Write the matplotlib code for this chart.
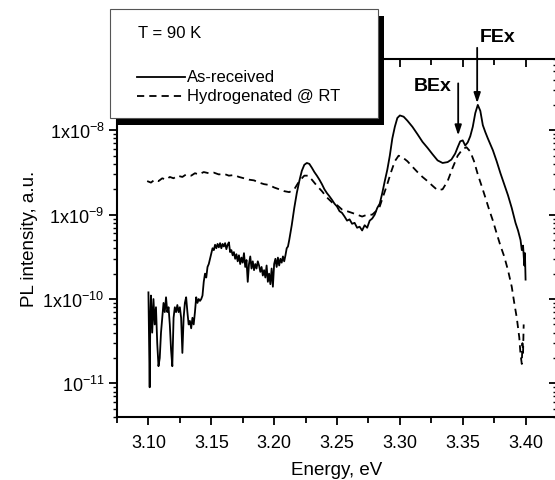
import matplotlib
matplotlib.use("Agg")
import matplotlib.pyplot as plt
from matplotlib.patches import Rectangle
from matplotlib.lines import Line2D
from matplotlib.ticker import FixedLocator, MultipleLocator, LogLocator, NullFormatter

plt.rcParams['font.family'] = ['Liberation Sans', 'DejaVu Sans']
plt.rcParams['mathtext.default'] = 'regular'

# ---------------------------------------------------------------
# data (energy in eV, PL intensity in a.u.)
# ---------------------------------------------------------------
asrec_E = [3.100, 3.1005, 3.101, 3.1015, 3.102, 3.103, 3.104, 3.105, 3.106, 3.107,
           3.108, 3.109, 3.110, 3.111, 3.112, 3.113, 3.114, 3.115, 3.116, 3.117,
           3.118, 3.119, 3.120, 3.121, 3.122, 3.123, 3.124, 3.125, 3.126, 3.127,
           3.128, 3.129, 3.130, 3.131, 3.132, 3.133, 3.134, 3.135, 3.136, 3.137,
           3.138, 3.139, 3.140, 3.141, 3.142, 3.143, 3.144, 3.145, 3.146, 3.147,
           3.148, 3.149, 3.150, 3.151, 3.152, 3.153, 3.154, 3.155, 3.156, 3.157,
           3.158, 3.159, 3.160, 3.161, 3.162, 3.163, 3.164, 3.165, 3.166, 3.167,
           3.168, 3.169, 3.170, 3.171, 3.172, 3.173, 3.174, 3.175, 3.176, 3.177,
           3.178, 3.179, 3.180, 3.181, 3.182, 3.183, 3.184, 3.185, 3.186, 3.187,
           3.188, 3.189, 3.190, 3.191, 3.192, 3.193, 3.194, 3.195, 3.196, 3.197,
           3.198, 3.199, 3.200, 3.201, 3.202, 3.203, 3.204, 3.205, 3.206, 3.207,
           3.208, 3.209, 3.210, 3.211, 3.212, 3.214, 3.216, 3.218, 3.220, 3.222,
           3.224, 3.226, 3.228, 3.230, 3.232, 3.234, 3.236, 3.238, 3.240, 3.242,
           3.244, 3.246, 3.248, 3.250, 3.252, 3.254, 3.256, 3.258, 3.260, 3.262,
           3.264, 3.266, 3.268, 3.270, 3.272, 3.274, 3.276, 3.278, 3.280, 3.282,
           3.284, 3.286, 3.288, 3.290, 3.292, 3.294, 3.296, 3.298, 3.300, 3.303,
           3.306, 3.310, 3.314, 3.318, 3.322, 3.326, 3.330, 3.334, 3.338, 3.341,
           3.344, 3.346, 3.348, 3.350, 3.352, 3.354, 3.356, 3.358, 3.360, 3.362,
           3.364, 3.366, 3.368, 3.370, 3.372, 3.374, 3.377, 3.380, 3.383, 3.386,
           3.389, 3.392, 3.394, 3.396, 3.397, 3.398, 3.399, 3.3995, 3.400]
asrec_I = [1.2e-10, 3e-11, 9e-12, 6e-11, 1.1e-10, 4e-11, 1.0e-10, 5e-11, 8e-11, 3e-11,
           1.6e-11, 2e-11, 4e-11, 6e-11, 9e-11, 7e-11, 1.05e-10, 7e-11, 8e-11, 5e-11,
           2.5e-11, 1.6e-11, 6e-11, 8e-11, 7e-11, 8.5e-11, 7e-11, 8e-11, 6e-11, 2.3e-11,
           6e-11, 9e-11, 1.05e-10, 7e-11, 5e-11, 5.5e-11, 4.5e-11, 6e-11, 5e-11, 7e-11,
           1.05e-10, 9e-11, 1.0e-10, 9.5e-11, 1.0e-10, 1.1e-10, 1.6e-10, 2.0e-10, 1.8e-10, 2.4e-10,
           2.6e-10, 3.0e-10, 3.5e-10, 4.0e-10, 3.8e-10, 4.4e-10, 4.0e-10, 4.5e-10, 4.1e-10, 4.6e-10,
           4.0e-10, 4.5e-10, 4.2e-10, 4.6e-10, 3.9e-10, 4.4e-10, 4.7e-10, 3.6e-10, 3.8e-10, 3.3e-10,
           3.6e-10, 3.0e-10, 3.4e-10, 2.8e-10, 3.3e-10, 2.6e-10, 3.1e-10, 2.7e-10, 3.5e-10, 2.4e-10,
           2.9e-10, 1.6e-10, 2.6e-10, 3.2e-10, 2.3e-10, 2.8e-10, 2.2e-10, 2.6e-10, 2.3e-10, 2.8e-10,
           2.5e-10, 2.1e-10, 2.4e-10, 1.9e-10, 2.2e-10, 1.8e-10, 2.5e-10, 1.6e-10, 2.0e-10, 1.5e-10,
           2.3e-10, 1.4e-10, 2.6e-10, 3.0e-10, 2.4e-10, 3.1e-10, 2.5e-10, 3.0e-10, 2.7e-10, 3.2e-10,
           2.8e-10, 3.3e-10, 4.0e-10, 4.2e-10, 5.0e-10, 7.5e-10, 1.2e-9, 1.8e-9, 2.5e-9, 3.3e-9,
           3.9e-9, 4.1e-9, 4.0e-9, 3.6e-9, 3.2e-9, 2.9e-9, 2.6e-9, 2.3e-9, 2.0e-9, 1.8e-9,
           1.65e-9, 1.5e-9, 1.35e-9, 1.25e-9, 1.1e-9, 1.05e-9, 9.5e-10, 8.5e-10, 8.8e-10, 7.8e-10,
           8.0e-10, 7.0e-10, 7.2e-10, 6.5e-10, 7.5e-10, 7.0e-10, 8.5e-10, 9.0e-10, 1.0e-9, 1.2e-9,
           1.35e-9, 1.8e-9, 2.5e-9, 3.4e-9, 5.0e-9, 8.0e-9, 1.1e-8, 1.4e-8, 1.5e-8, 1.45e-8,
           1.3e-8, 1.1e-8, 9e-9, 7.3e-9, 6.2e-9, 5.2e-9, 4.4e-9, 4.1e-9, 4.2e-9, 4.5e-9,
           5.3e-9, 6.3e-9, 7.4e-9, 7.6e-9, 6.6e-9, 7.2e-9, 8.5e-9, 1.1e-8, 1.6e-8, 2.0e-8,
           1.7e-8, 1.15e-8, 9.5e-9, 8e-9, 6.8e-9, 5.8e-9, 4.3e-9, 3.1e-9, 2.3e-9, 1.7e-9,
           1.2e-9, 8e-10, 6.5e-10, 5e-10, 3.8e-10, 4.3e-10, 2.5e-10, 3.5e-10, 1.7e-10]

hydro_E = [3.099, 3.102, 3.105, 3.108, 3.111, 3.114, 3.117, 3.120, 3.123, 3.127,
           3.130, 3.134, 3.137, 3.140, 3.144, 3.148, 3.152, 3.156, 3.160, 3.164,
           3.168, 3.172, 3.176, 3.180, 3.184, 3.188, 3.192, 3.196, 3.200, 3.204,
           3.208, 3.212, 3.216, 3.220, 3.224, 3.227, 3.230, 3.234, 3.238, 3.242,
           3.246, 3.250, 3.254, 3.258, 3.262, 3.266, 3.270, 3.274, 3.278, 3.281,
           3.284, 3.287, 3.290, 3.293, 3.296, 3.299, 3.302, 3.306, 3.310, 3.314,
           3.318, 3.322, 3.326, 3.330, 3.334, 3.338, 3.342, 3.346, 3.350, 3.353,
           3.356, 3.359, 3.362, 3.365, 3.368, 3.371, 3.374, 3.377, 3.380, 3.383,
           3.386, 3.389, 3.391, 3.393, 3.395, 3.396, 3.397, 3.3975, 3.398, 3.3985]
hydro_I = [2.5e-9, 2.4e-9, 2.6e-9, 2.5e-9, 2.7e-9, 2.6e-9, 2.8e-9, 2.7e-9, 2.9e-9, 2.8e-9,
           3.0e-9, 2.9e-9, 3.1e-9, 3.0e-9, 3.2e-9, 3.1e-9, 3.15e-9, 3.0e-9, 3.05e-9, 2.9e-9,
           2.95e-9, 2.8e-9, 2.7e-9, 2.6e-9, 2.55e-9, 2.4e-9, 2.3e-9, 2.25e-9, 2.1e-9, 2.0e-9,
           1.9e-9, 1.85e-9, 2.0e-9, 2.5e-9, 2.9e-9, 2.9e-9, 2.6e-9, 2.2e-9, 1.9e-9, 1.6e-9,
           1.4e-9, 1.3e-9, 1.15e-9, 1.1e-9, 1.05e-9, 1.0e-9, 9.5e-10, 1.0e-9, 1.0e-9, 1.1e-9,
           1.25e-9, 1.7e-9, 2.3e-9, 3.2e-9, 4.3e-9, 5.0e-9, 4.8e-9, 4.3e-9, 3.7e-9, 3.2e-9,
           2.8e-9, 2.5e-9, 2.2e-9, 1.95e-9, 2.0e-9, 2.5e-9, 3.6e-9, 5.0e-9, 6.0e-9, 6.3e-9,
           5.6e-9, 4.3e-9, 3.0e-9, 2.2e-9, 1.6e-9, 1.15e-9, 8.5e-10, 6e-10, 4.3e-10, 3.2e-10,
           2.2e-10, 1.4e-10, 9e-11, 6e-11, 3.5e-11, 2.2e-11, 1.7e-11, 3e-11, 2.3e-11, 5e-11]

ytick_vals = [1e-11, 1e-10, 1e-9, 1e-8]
ytick_labels = ['10$^{-11}$', '1x10$^{-10}$', '1x10$^{-9}$', '1x10$^{-8}$']
xtick_vals = [3.10, 3.15, 3.20, 3.25, 3.30, 3.35, 3.40]
xtick_labels = ['3.10', '3.15', '3.20', '3.25', '3.30', '3.35', '3.40']

# peak markers: (label, arrow x, arrow top, arrow tip, text x, text y)
peaks = [('FEx', 3.3615, 9.5e-8, 2.1e-8, 3.3775, 1.3e-7),
         ('BEx', 3.3464, 3.6e-8, 8.7e-9, 3.3265, 3.4e-8)]

W, H = 555, 481
fig = plt.figure(figsize=(W / 100, H / 100), dpi=100)

def fx(px):
    return px / W

def fy(py):
    return 1 - py / H

ax = fig.add_axes([fx(117), fy(418), fx(557 - 117), (418 - 60) / H])

ax.plot(asrec_E, asrec_I, color='black', lw=1.3)
ax.plot(hydro_E, hydro_I, color='black', lw=1.3, dashes=(4, 2.8))

ax.set_yscale('log')
ax.set_xlim(3.075, 3.425)
ax.set_ylim(4e-12, 7e-8)

ax.xaxis.set_major_locator(FixedLocator(xtick_vals))
ax.set_xticklabels(xtick_labels)
ax.xaxis.set_minor_locator(MultipleLocator(0.025))
ax.yaxis.set_major_locator(FixedLocator(ytick_vals))
ax.set_yticklabels(ytick_labels)
ax.yaxis.set_minor_locator(LogLocator(base=10, subs=range(2, 10), numticks=20))
ax.yaxis.set_minor_formatter(NullFormatter())

for s in ax.spines.values():
    s.set_linewidth(1.5)

ax.tick_params(axis='x', which='major', direction='out', length=6, width=1.3,
               labelsize=13, pad=6, top=True)
ax.tick_params(axis='x', which='minor', direction='out', length=4, width=1.3, top=True)
ax.tick_params(axis='y', which='major', direction='out', length=6, width=1.3,
               labelsize=13, pad=3, right=True)
ax.tick_params(axis='y', which='minor', direction='out', length=3, width=1.0, right=True)
# top and right ticks point inward
for t in ax.xaxis.get_major_ticks() + ax.xaxis.get_minor_ticks():
    t.tick2line.set_marker(3)
for t in ax.yaxis.get_major_ticks() + ax.yaxis.get_minor_ticks():
    t.tick2line.set_marker(0)

ax.set_xlabel('Energy, eV', fontsize=13.5, labelpad=7.5)
ax.set_ylabel('PL intensity, a.u.', fontsize=13.5, labelpad=3)

for name, xa, ytop, ytip, xt, yt in peaks:
    ax.annotate('', xy=(xa, ytip), xytext=(xa, ytop), annotation_clip=False,
                arrowprops=dict(arrowstyle='-|>,head_length=0.6,head_width=0.2',
                                color='black', lw=1.3, shrinkA=0, shrinkB=0))
    ax.text(xt, yt, name, fontsize=14, fontweight='bold', ha='center', va='center',
            clip_on=False)

# legend box with a drop shadow, in figure pixels
shadow = Rectangle((fx(117), fy(126)), fx(384 - 117), (126 - 17) / H,
                   transform=fig.transFigure, facecolor='black', edgecolor='none', zorder=10)
box = Rectangle((fx(110), fy(119)), fx(378 - 110), (119 - 10) / H,
                transform=fig.transFigure, facecolor='white', edgecolor='#555555',
                lw=0.8, zorder=11)
fig.add_artist(shadow)
fig.add_artist(box)
fig.text(fx(138), fy(34), 'T = 90 K', fontsize=12, va='center', zorder=12)
fig.add_artist(Line2D([fx(137), fx(185)], [fy(78), fy(78)], transform=fig.transFigure,
                      color='black', lw=1.3, zorder=12))
fig.add_artist(Line2D([fx(137), fx(185)], [fy(97), fy(97)], transform=fig.transFigure,
                      color='black', lw=1.3, dashes=(4, 2.8), zorder=12))
fig.text(fx(187), fy(78), 'As-received', fontsize=12, va='center', zorder=12)
fig.text(fx(187), fy(97), 'Hydrogenated @ RT', fontsize=12, va='center', zorder=12)

fig.savefig('out.png', dpi=100)
